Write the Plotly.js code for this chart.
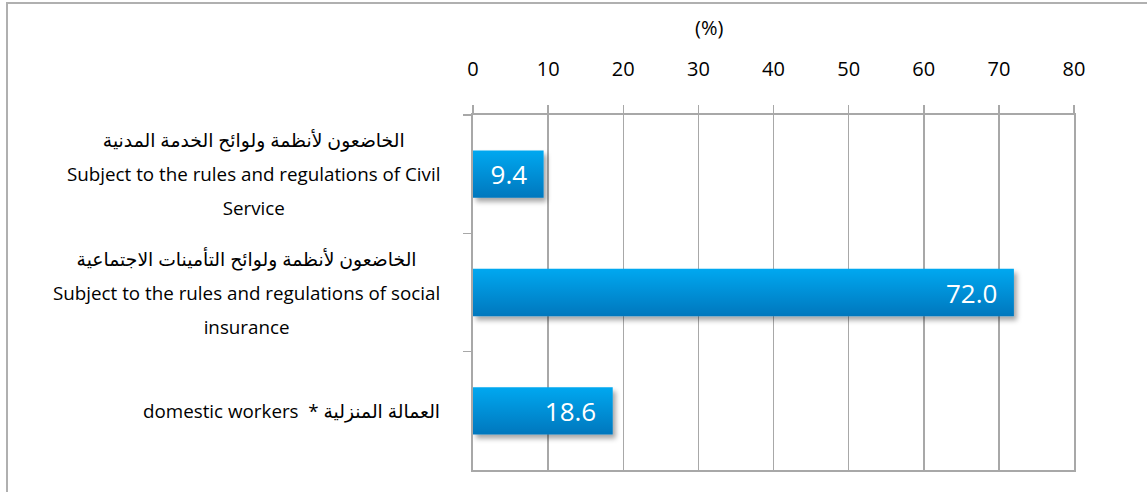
<!DOCTYPE html>
<html>
<head>
<meta charset="utf-8">
<script src="https://cdn.plot.ly/plotly-3.0.1.min.js"></script>
<style>
  html, body { margin: 0; padding: 0; background: #fff; }
  #frame { position: absolute; left: 6px; top: 2px; border-left: 2px solid #b0b0b0; border-top: 2px solid #b0b0b0; }
  #chart { width: 1139px; height: 488px; }
</style>
</head>
<body>
<div id="frame"><div id="chart"></div></div>
<script>
// ---- data ----
const categories = ['civil', 'social', 'domestic'];
const arabicLabels = [
  'الخاضعون لأنظمة ولوائح الخدمة المدنية',
  'الخاضعون لأنظمة ولوائح التأمينات الاجتماعية',
  ''
];
const englishLabels = [
  'Subject to the rules and regulations of Civil<br>Service',
  'Subject to the rules and regulations of social<br>insurance',
  'domestic workers\u00A0\u00A0* العمالة المنزلية'
];
const values = [9.4, 72.0, 18.6];
const xTickValues = [0, 10, 20, 30, 40, 50, 60, 70, 80];
const axisTitle = '(%)';

// ---- style ----
const FONT = '"Open Sans", "DejaVu Sans", sans-serif';
const GRID = '#a8a8a8';

const trace = {
  type: 'bar',
  orientation: 'h',
  x: values,
  y: categories,
  width: 0.4,
  marker: { color: '#0090d8', line: { width: 0 } },
  text: values.map(v => v.toFixed(1)),
  texttemplate: '%{text}\u00A0\u00A0',
  textposition: 'inside',
  insidetextanchor: 'end',
  textfont: { family: FONT, size: 26, color: '#ffffff' },
  hoverinfo: 'skip'
};

const annotations = categories.map((c, i) => {
  const lines = [];
  if (arabicLabels[i]) lines.push(arabicLabels[i]);
  englishLabels[i].split('<br>').forEach(l => lines.push(l));
  return {
    xref: 'paper', x: 0, xanchor: 'right', xshift: -31,
    yref: 'y', y: c, yanchor: 'middle',
    align: 'center', showarrow: false,
    font: { family: FONT, size: 26, color: '#000' },
    text: lines.map(l => '<span style="font-size:18.8px">' + l + '</span>').join('<br>')
  };
});

const layout = {
  width: 1139, height: 488,
  margin: { l: 465, r: 73, t: 111, b: 22, pad: 0 },
  paper_bgcolor: '#ffffff', plot_bgcolor: '#ffffff',
  showlegend: false,
  font: { family: FONT, color: '#000' },
  title: {
    text: axisTitle, font: { family: FONT, size: 20, color: '#000' },
    xref: 'paper', x: 0.393, xanchor: 'center',
    yref: 'container', y: 1 - 24 / 488, yanchor: 'middle'
  },
  xaxis: {
    side: 'top', range: [0, 80], tickvals: xTickValues,
    showgrid: true, gridcolor: GRID, gridwidth: 1.5,
    showline: true, linecolor: GRID, linewidth: 2, mirror: true,
    ticks: 'outside', ticklen: 8, tickcolor: GRID, tickwidth: 1.5,
    ticklabelstandoff: 21,
    tickfont: { family: FONT, size: 20, color: '#000' },
    zeroline: false, fixedrange: true
  },
  yaxis: {
    type: 'category', autorange: 'reversed',
    showgrid: false, showticklabels: false,
    showline: true, linecolor: GRID, linewidth: 2, mirror: true,
    ticks: 'outside', tickson: 'boundaries', ticklen: 8, tickcolor: GRID, tickwidth: 1.5,
    zeroline: false, fixedrange: true
  },
  annotations: annotations
};

function decorate() {
  const svg = document.querySelector('#chart .main-svg');
  if (!svg) return;
  const NS = 'http://www.w3.org/2000/svg';
  let defs = svg.querySelector('defs');
  if (!defs) { defs = document.createElementNS(NS, 'defs'); svg.insertBefore(defs, svg.firstChild); }
  if (!svg.querySelector('#barGrad')) {
    const g = document.createElementNS(NS, 'linearGradient');
    g.setAttribute('id', 'barGrad');
    g.setAttribute('x1', '0'); g.setAttribute('y1', '0');
    g.setAttribute('x2', '0'); g.setAttribute('y2', '1');
    [['0%', '#00a8f0'], ['100%', '#0077bd']].forEach(([o, c]) => {
      const s = document.createElementNS(NS, 'stop');
      s.setAttribute('offset', o); s.setAttribute('stop-color', c);
      g.appendChild(s);
    });
    defs.appendChild(g);
    const f = document.createElementNS(NS, 'filter');
    f.setAttribute('id', 'barShadow');
    f.setAttribute('x', '-10%'); f.setAttribute('y', '-20%');
    f.setAttribute('width', '130%'); f.setAttribute('height', '160%');
    const ds = document.createElementNS(NS, 'feDropShadow');
    ds.setAttribute('dx', '3'); ds.setAttribute('dy', '4');
    ds.setAttribute('stdDeviation', '2.5');
    ds.setAttribute('flood-color', '#000'); ds.setAttribute('flood-opacity', '0.35');
    f.appendChild(ds);
    defs.appendChild(f);
  }
  document.querySelectorAll('#chart .barlayer .point path').forEach(p => {
    p.style.fill = 'url(#barGrad)';
    p.setAttribute('filter', 'url(#barShadow)');
  });
}

Plotly.newPlot('chart', [trace], layout, { displayModeBar: false, staticPlot: true }).then(decorate);
</script>
</body>
</html>
